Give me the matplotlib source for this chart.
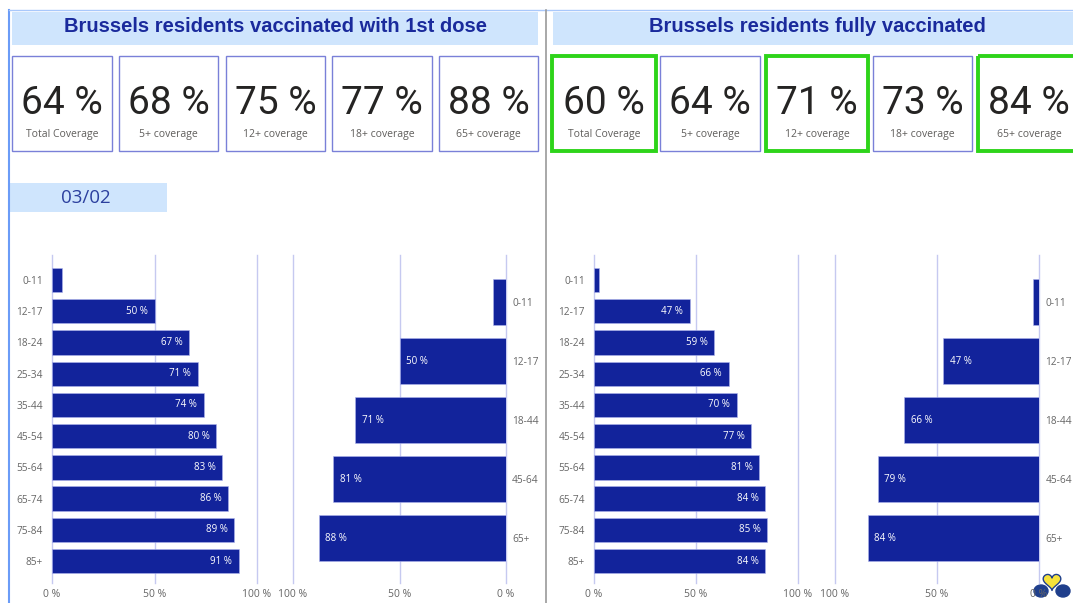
import numpy as np
import matplotlib.pyplot as plt
from matplotlib.patches import Rectangle, Ellipse, Polygon

W, H = 1073, 603

# data
ages_fine = ["0-11", "12-17", "18-24", "25-34", "35-44", "45-54", "55-64", "65-74", "75-84", "85+"]
ages_broad = ["0-11", "12-17", "18-44", "45-64", "65+"]

first_fine = [5, 50, 67, 71, 74, 80, 83, 86, 89, 91]
first_broad = [6, 50, 71, 81, 88]
full_fine = [2.5, 47, 59, 66, 70, 77, 81, 84, 85, 84]
full_broad = [3, 47, 66, 79, 84]

kpi_labels = ["Total Coverage", "5+ coverage", "12+ coverage", "18+ coverage", "65+ coverage"]
first_kpi = [64, 68, 75, 77, 88]
full_kpi = [60, 64, 71, 73, 84]
full_highlight = [True, False, True, False, True]

date_label = "03/02"

NAVY = "#12239b"
GRID = "#c6c9f0"
TICK = "#666666"
TITLE = "#1a2a9c"
BAR_BG = "#cfe5fd"

fig = plt.figure(figsize=(W / 100, H / 100), dpi=100)

bg = fig.add_axes([0, 0, 1, 1])
bg.set_xlim(0, W)
bg.set_ylim(H, 0)
bg.axis("off")


def px_axes(x0, y0, x1, y1):
    return fig.add_axes([x0 / W, 1 - y1 / H, (x1 - x0) / W, (y1 - y0) / H])


# panel frames
bg.plot([9, 9], [10, H], color="#6b9cf7", lw=1.5)
bg.plot([9, W], [10, 10], color="#a9c8fb", lw=1)
bg.plot([546, 546], [10, H], color="#9a9a9a", lw=1.2)

# title bars
bg.add_patch(Rectangle((12, 12), 526, 33, color=BAR_BG, lw=0))
bg.add_patch(Rectangle((553, 12), 520, 33, color=BAR_BG, lw=0))
bg.text(275, 27, "Brussels residents vaccinated with 1st dose", ha="center", va="center",
        fontsize=14.5, fontweight="bold", color=TITLE, family="Liberation Sans")
bg.text(817, 27, "Brussels residents fully vaccinated", ha="center", va="center",
        fontsize=14.5, fontweight="bold", color=TITLE, family="Liberation Sans")


def cards(xs, values, highlight):
    for (x0, x1), v, lab, hl in zip(xs, values, kpi_labels, highlight):
        if hl:
            bg.add_patch(Rectangle((x0, 56), x1 - x0, 95, fill=False, ec="#2ed41a", lw=2.8))
        else:
            bg.add_patch(Rectangle((x0, 56), x1 - x0, 95, fill=False, ec="#7a80d8", lw=1))
        cx = (x0 + min(x1, W + 40)) / 2
        bg.text(cx, 103, f"{v} %", ha="center", va="center", fontsize=28,
                color="#252423", family="Roboto")
        bg.text(cx, 134, lab, ha="center", va="center", fontsize=7.5,
                color="#605e5c", family="Open Sans")


cards([(12, 112), (119, 218), (226, 325), (332, 432), (439, 538)], first_kpi, [False] * 5)
cards([(552, 656), (660, 760), (766, 868), (873, 972), (978, 1080)], full_kpi, full_highlight)

# date box
bg.add_patch(Rectangle((9, 183), 158, 29, color=BAR_BG, lw=0))
bg.text(86, 198, date_label, ha="center", va="center", fontsize=13.5,
        color="#2b3f9e", family="Open Sans")


def style(ax, ypad):
    for s in ax.spines.values():
        s.set_visible(False)
    ax.grid(axis="x", color=GRID, lw=1)
    ax.set_axisbelow(True)
    ax.set_xticks([0, 50, 100])
    ax.set_xticklabels(["0 %", "50 %", "100 %"])
    ax.tick_params(axis="x", length=0, labelsize=7.5, colors=TICK, pad=4.5)
    ax.tick_params(axis="y", length=0, labelsize=7.3, colors=TICK, pad=ypad)
    for t in ax.get_xticklabels() + ax.get_yticklabels():
        t.set_family("Open Sans")
    for g in ax.get_xgridlines():
        g.set_clip_on(False)


def fine_chart(x0, x1, vals):
    ax = px_axes(x0, 255, x1, 583)
    y = list(range(len(ages_fine)))
    ax.barh(y, vals, height=0.78, color=NAVY, ec="#aeb4ee", lw=0.4, zorder=3)
    ax.set_yticks(y)
    ax.set_yticklabels(ages_fine)
    ax.set_xlim(0, 100)
    ax.set_ylim(9.7, -0.8)
    style(ax, 6.5)
    for i, v in zip(y, vals):
        if v >= 10:
            ax.text(v - 3.2, i, f"{v:.0f} %", ha="right", va="center", color="white",
                    fontsize=7, family="Open Sans", zorder=4)
    return ax


def broad_chart(x0, x1, vals):
    ax = px_axes(x0, 255, x1, 583)
    y = list(range(len(ages_broad)))
    ax.barh(y, vals, height=0.77, color=NAVY, ec="#aeb4ee", lw=0.4, zorder=3)
    ax.set_yticks(y)
    ax.set_yticklabels(ages_broad)
    ax.yaxis.tick_right()
    ax.set_xlim(100, 0)
    ax.set_ylim(4.76, -0.8)
    style(ax, 4.5)
    for i, v in zip(y, vals):
        if v >= 10:
            ax.text(v - 3.2, i, f"{v:.0f} %", ha="left", va="center", color="white",
                    fontsize=7, family="Open Sans", zorder=4)
    return ax


fine_chart(52, 257, first_fine)
broad_chart(293, 506, first_broad)
fine_chart(594, 798, full_fine)
broad_chart(835, 1039, full_broad)

# small logo, bottom right: two navy drops and a yellow heart
bg.add_patch(Ellipse((1041, 591), 14, 12, color="#1f3f8c", zorder=5))
bg.add_patch(Ellipse((1063, 591), 14, 12, color="#1f3f8c", zorder=5))
t = np.linspace(0, 2 * np.pi, 100)
hx = 1052 + 0.55 * 16 * np.sin(t) ** 3
hy = 581 - 0.55 * (13 * np.cos(t) - 5 * np.cos(2 * t) - 2 * np.cos(3 * t) - np.cos(4 * t))
bg.add_patch(Polygon(np.column_stack([hx, hy]), closed=True, fc="#f6e23a", ec="#1f3f8c",
                     lw=1, zorder=6))

fig.savefig("out.png", dpi=100)
